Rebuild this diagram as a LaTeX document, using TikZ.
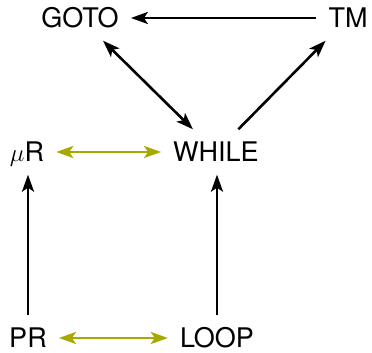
\documentclass[tikz,border=0pt]{standalone}
\usepackage{fontspec}
\setmainfont{TeX Gyre Heros}
\usepackage{xcolor}
\usepackage{tikz}
\usetikzlibrary{arrows.meta}
\definecolor{olive}{RGB}{166,170,0}

\begin{document}
\begin{tikzpicture}[x=1pt,y=1pt]
    \tikzstyle{model}=[inner xsep=12pt,inner ysep=13pt,text height=19pt,text depth=0pt,font=\fontsize{27}{31}\selectfont]
    \tikzstyle{sim}=[line width=2.6pt,-{Stealth[length=17pt,width=12pt,inset=4pt]}]
    \tikzstyle{equiv}=[line width=2.6pt,olive,{Stealth[length=17pt,width=12pt,inset=4pt]}-{Stealth[length=17pt,width=12pt,inset=4pt]}]
    \useasboundingbox (0,0) rectangle (372,353);
    % Place the models
    \node[model] (goto)  at (80,335)  {GOTO};
    \node[model] (tm)    at (348,335) {TM};
    \node[model] (mur)   at (27,201)  {$\mu$R};
    \node[model] (while) at (216,201) {WHILE};
    \node[model] (pr)    at (28,15)   {PR};
    \node[model] (loop)  at (217,15)  {LOOP};
    % Draw the simulations
    \draw[sim] (tm) -- (goto);
    \draw[sim,{Stealth[length=17pt,width=12pt,inset=4pt]}-{Stealth[length=17pt,width=12pt,inset=4pt]}] (goto) -- (while);
    \draw[sim] (while) -- (tm);
    \draw[sim] (pr.north) -- (pr.north |- mur.south);
    \draw[sim] (loop.north) -- (loop.north |- while.south);
    % Draw the equivalences
    \draw[equiv] (mur) -- (while);
    \draw[equiv] (pr) -- (loop);
\end{tikzpicture}
\end{document}
